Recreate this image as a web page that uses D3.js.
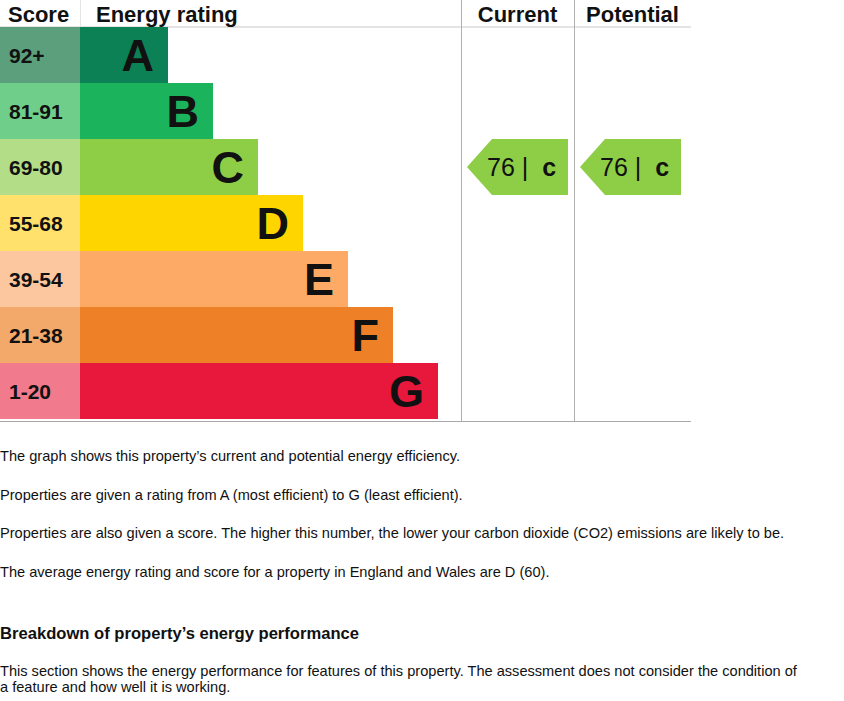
<!DOCTYPE html>
<html lang="en">
<head>
  <meta charset="UTF-8">
  <title>Energy rating</title>
  <script src="https://d3js.org/d3.v7.min.js"></script>
  <style>
    body {
      margin: 0;
      background: #fff;
      font-family: Arial, "Liberation Sans", sans-serif;
    }
  </style>
</head>
<body>
  <div id="chart"></div>

  <script>
    // ratings, top (best) to bottom (worst)
    const ratings = ["A", "B", "C", "D", "E", "F", "G"];
    const scoreRanges = ["92+", "81-91", "69-80", "55-68", "39-54", "21-38", "1-20"];
    const barColors = ["#0b8155", "#1bb35b", "#8dce46", "#ffd500", "#fcaa65", "#ee8027", "#e8173c"];
    const scoreColors = ["#5b9f7d", "#6fcf8a", "#b3dd86", "#ffe16b", "#fcc79e", "#f3a96a", "#f27a8d"];

    const currentScore = 76, currentRating = "C";
    const potentialScore = 76, potentialRating = "C";

    const notes = [
      "The graph shows this property\u2019s current and potential energy efficiency.",
      "Properties are given a rating from A (most efficient) to G (least efficient).",
      "Properties are also given a score. The higher this number, the lower your carbon dioxide (CO2) emissions are likely to be.",
      "The average energy rating and score for a property in England and Wales are D (60)."
    ];
    const heading = "Breakdown of property\u2019s energy performance";
    const sectionText = [
      "This section shows the energy performance for features of this property. The assessment does not consider the condition of",
      "a feature and how well it is working."
    ];

    const W = 844, H = 701;
    const svg = d3.select("#chart").append("svg")
      .attr("width", W).attr("height", H);

    const gridTop = 27, gridBottom = 420;
    const scoreX = 0, barX = 80, curX = 461, potX = 574, rightX = 691;

    const y = d3.scaleBand().domain(ratings).range([gridTop, gridBottom - 1]).padding(0);
    // bar length grows one step per band
    const x = d3.scaleLinear().domain([0, ratings.length - 1]).range([168, 438]);

    const data = ratings.map((r, i) => ({
      rating: r, range: scoreRanges[i], bar: barColors[i], score: scoreColors[i], i: i
    }));

    // grid lines
    svg.append("line").attr("x1", 0).attr("x2", rightX).attr("y1", gridTop).attr("y2", gridTop)
      .attr("stroke", "#c8c8c8").attr("stroke-width", 1);
    svg.append("line").attr("x1", 0).attr("x2", rightX).attr("y1", gridBottom + 1.5).attr("y2", gridBottom + 1.5)
      .attr("stroke", "#a8a8a8").attr("stroke-width", 1.2);
    svg.append("line").attr("x1", barX + 0.5).attr("x2", barX + 0.5).attr("y1", 0).attr("y2", gridTop)
      .attr("stroke", "#e4e4e4");
    [curX, potX].forEach(vx => {
      svg.append("line").attr("x1", vx + 0.5).attr("x2", vx + 0.5).attr("y1", 0).attr("y2", gridBottom + 1)
        .attr("stroke", "#b0b0b0");
    });

    // headers
    const hdr = svg.append("g").style("font-weight", "bold").style("font-size", "22px").attr("fill", "#111");
    hdr.append("text").attr("x", 8).attr("y", 22).text("Score");
    hdr.append("text").attr("x", 96).attr("y", 22).text("Energy rating");
    hdr.append("text").attr("x", (curX + potX) / 2).attr("y", 22).attr("text-anchor", "middle").text("Current");
    hdr.append("text").attr("x", (potX + rightX) / 2).attr("y", 22).attr("text-anchor", "middle").text("Potential");

    // score cells
    svg.selectAll(".score").data(data).enter().append("rect")
      .attr("x", scoreX).attr("y", d => y(d.rating))
      .attr("width", barX - scoreX).attr("height", y.bandwidth())
      .attr("fill", d => d.score);

    svg.selectAll(".scoreLabel").data(data).enter().append("text")
      .attr("x", 9).attr("y", d => y(d.rating) + y.bandwidth() / 2)
      .attr("dy", "0.36em")
      .style("font-size", "21px").style("font-weight", "bold").attr("fill", "#111")
      .text(d => d.range);

    // bars
    svg.selectAll(".bar").data(data).enter().append("rect")
      .attr("x", barX).attr("y", d => y(d.rating))
      .attr("width", d => x(d.i) - barX).attr("height", y.bandwidth())
      .attr("fill", d => d.bar);

    svg.selectAll(".letter").data(data).enter().append("text")
      .attr("x", d => x(d.i) - 14).attr("y", d => y(d.rating) + y.bandwidth() / 2)
      .attr("dy", "0.36em").attr("text-anchor", "end")
      .style("font-size", "45px").style("font-weight", "bold").attr("fill", "#111")
      .text(d => d.rating);

    // arrows
    function arrow(x0, x1, score, rating) {
      const i = ratings.indexOf(rating);
      const y0 = y(rating), h = y.bandwidth(), notch = 25;
      const pts = [[x0, y0 + h / 2], [x0 + notch, y0], [x1, y0], [x1, y0 + h], [x0 + notch, y0 + h]];
      const g = svg.append("g");
      g.append("path").attr("d", d3.line()(pts) + "Z").attr("fill", barColors[i]);
      const t = g.append("text").attr("x", x0 + 20).attr("y", y0 + h / 2).attr("dy", "0.36em")
        .style("font-size", "25px").attr("fill", "#111");
      t.append("tspan").text(score + "\u00a0|\u00a0\u00a0");
      t.append("tspan").style("font-weight", "bold").text(rating.toLowerCase());
    }
    arrow(467, 568, currentScore, currentRating);
    arrow(580, 681, potentialScore, potentialRating);

    // text below
    const body = svg.append("g").style("font-size", "14.6px").attr("fill", "#111");
    const noteY = [461, 500, 538, 577];
    notes.forEach((s, k) => body.append("text").attr("x", 0).attr("y", noteY[k]).text(s));
    body.append("text").attr("x", 0).attr("y", 639).style("font-size", "16.6px").style("font-weight", "bold").text(heading);
    sectionText.forEach((s, k) => body.append("text").attr("x", 0).attr("y", 676 + k * 16).text(s));
  </script>
</body>
</html>
